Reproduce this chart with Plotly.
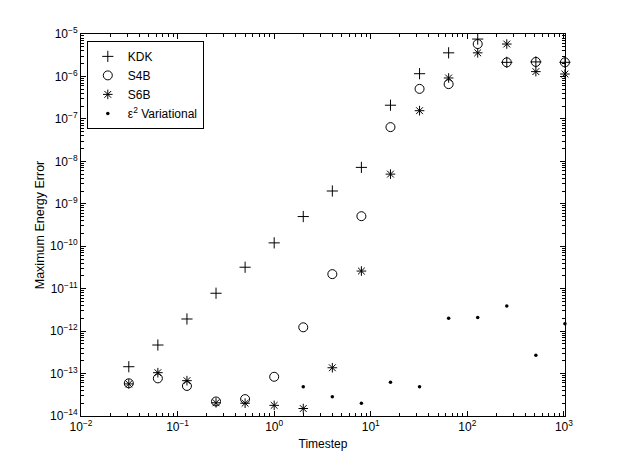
#!/usr/bin/env python3

import plotly.graph_objects as go

### data
timestep = [0.03125, 0.0625, 0.125, 0.25, 0.5, 1, 2, 4, 8, 16, 32, 64, 128, 256, 512, 1024]
kdk = [1.45e-13, 4.7e-13, 1.93e-12, 7.8e-12, 3.2e-11, 1.2e-10, 5.0e-10, 2.0e-9,
       7.2e-9, 2.1e-7, 1.16e-6, 3.6e-6, 7.6e-6, 2.15e-6, 2.2e-6, 2.15e-6]
s4b = [5.9e-14, 7.7e-14, 5.1e-14, 2.2e-14, 2.5e-14, 8.4e-14, 1.23e-12, 2.2e-11,
       5.1e-10, 6.4e-8, 5.1e-7, 6.6e-7, 5.8e-6, 2.15e-6, 2.2e-6, 2.15e-6]
s6b = [5.7e-14, 1.05e-13, 6.8e-14, 2.05e-14, 2.0e-14, 1.78e-14, 1.5e-14, 1.37e-13,
       2.6e-11, 5.0e-9, 1.56e-7, 9.2e-7, 3.6e-6, 5.8e-6, 1.3e-6, 1.14e-6]
var_timestep = [2, 4, 8, 16, 32, 64, 128, 256, 512, 1024]
variational = [4.9e-14, 2.85e-14, 2.0e-14, 6.2e-14, 4.9e-14, 2.0e-12, 2.1e-12,
               3.9e-12, 2.7e-13, 1.5e-12]

### tick labels
x_exponents = [-2, -1, 0, 1, 2, 3]
y_exponents = [-14, -13, -12, -11, -10, -9, -8, -7, -6, -5]

font = "Liberation Sans, Arial, Helvetica, sans-serif"


def decade_ticks(exponents):
    vals = [10.0 ** e for e in exponents]
    text = ["10<sup>%s</sup>" % str(e).replace("-", "\u2212") for e in exponents]
    minor = [m * 10.0 ** e for e in exponents[:-1] for m in range(2, 10)]
    return vals, text, minor


x_vals, x_text, x_minor = decade_ticks(x_exponents)
y_vals, y_text, y_minor = decade_ticks(y_exponents)

fig = go.Figure()
fig.add_trace(go.Scatter(x=timestep, y=kdk, mode="markers", name="KDK", cliponaxis=False,
                         marker=dict(symbol="cross-thin", size=8, color="black",
                                     line=dict(color="black", width=1))))
fig.add_trace(go.Scatter(x=timestep, y=s4b, mode="markers", name="S4B", cliponaxis=False,
                         marker=dict(symbol="circle-open", size=9, color="black",
                                     line=dict(color="black", width=1))))
fig.add_trace(go.Scatter(x=timestep, y=s6b, mode="markers", name="S6B", cliponaxis=False,
                         marker=dict(symbol="asterisk-open", size=8, color="black",
                                     line=dict(color="black", width=1))))
fig.add_trace(go.Scatter(x=var_timestep, y=variational, mode="markers",
                         name="ε<sup>2</sup> Variational", cliponaxis=False,
                         marker=dict(symbol="circle", size=3.5, color="black")))

axis_style = dict(
    type="log", tickmode="array", showgrid=False, zeroline=False,
    showline=True, linecolor="black", linewidth=1, mirror="ticks",
    ticks="inside", ticklen=5, tickcolor="black", automargin=False,
    tickfont=dict(size=12, color="black"),
)

# the page body adds 8px around the figure, so the figure is 16px smaller than the window
fig.update_layout(
    width=607, height=453,
    margin=dict(l=73, r=50, t=26, b=45),
    plot_bgcolor="white", paper_bgcolor="white",
    font=dict(family=font, size=12, color="black"),
    # upper end a hair past 10^3 so the 1024 points stay drawn
    xaxis=dict(axis_style, range=[-2, 3.011], tickvals=x_vals, ticktext=x_text,
               minor=dict(tickmode="array", tickvals=x_minor, ticks="inside",
                          ticklen=3, tickcolor="black", showgrid=False),
               title=dict(text="Timestep", font=dict(size=12), standoff=6)),
    yaxis=dict(axis_style, range=[-14, -5], tickvals=y_vals, ticktext=y_text,
               minor=dict(tickmode="array", tickvals=y_minor, ticks="inside",
                          ticklen=3, tickcolor="black", showgrid=False),
               title=dict(text="Maximum Energy Error", font=dict(size=12.5), standoff=2)),
    legend=dict(x=0.012, y=0.982, xanchor="left", yanchor="top",
                bordercolor="black", borderwidth=1, bgcolor="white",
                font=dict(size=12, color="black"), tracegroupgap=0),
    showlegend=True,
)

fig.write_html("out.html")
